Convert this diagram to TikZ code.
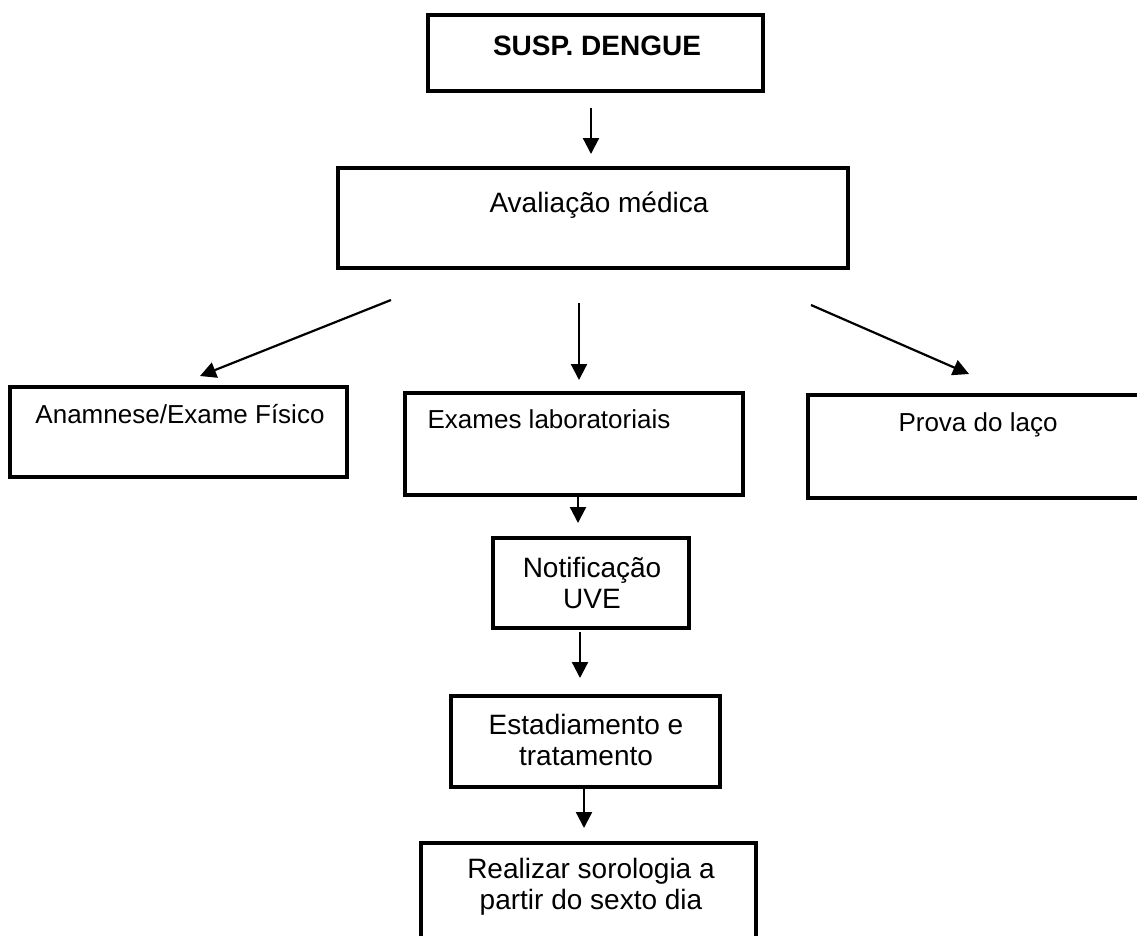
\documentclass[tikz,border=0pt]{standalone}
\usepackage{fontspec}
\setsansfont{Liberation Sans}
\usetikzlibrary{arrows.meta}

\begin{document}
\begin{tikzpicture}[x=1pt,y=-1pt]
    \pgfmathsetmacro{\boxlw}{3.5}
    \pgfmathsetmacro{\arrlw}{2.2}
    \tikzset{every node/.style={font=\sffamily}}
    \tikzset{box/.style={draw,line width=\boxlw pt,inner sep=0pt}}
    \tikzset{bigtxt/.style={anchor=base,align=center,inner sep=0pt,font=\sffamily\fontsize{28}{31}\selectfont}}
    \tikzset{smalltxt/.style={anchor=base,align=center,inner sep=0pt,font=\sffamily\fontsize{26}{31}\selectfont}}
    \tikzset{flow/.style={line width=\arrlw pt,-{Triangle[length=16pt,width=16pt]}}}
    \useasboundingbox[fill=white] (0,0) rectangle (1137,935);
    \node[box,minimum width=335pt,minimum height=76pt] (susp) at (595.5,53) {};
\node[box,minimum width=510pt,minimum height=100pt] (aval) at (593,218) {};
\node[box,minimum width=337pt,minimum height=90pt] (anam) at (178.5,432) {};
\node[box,minimum width=338pt,minimum height=102pt] (exam) at (574,444) {};
\node[box,minimum width=336pt,minimum height=103pt] (prova) at (976,446.5) {};
\node[box,minimum width=196pt,minimum height=90pt] (notif) at (591,583) {};
\node[box,minimum width=269pt,minimum height=91pt] (estad) at (585.5,741.5) {};
\node[box,minimum width=335pt,minimum height=114pt] (real) at (588.5,900) {};
\node[bigtxt,font=\sffamily\bfseries\fontsize{28}{31}\selectfont] (suspT) at (597,55) {SUSP. DENGUE};
\node[bigtxt] (avalT) at (599,212) {Avaliação médica};
\node[smalltxt] (anamT) at (180,423) {Anamnese/Exame Físico};
\node[smalltxt] (examT) at (549,428) {Exames laboratoriais};
\node[smalltxt] (provaT) at (978,431) {Prova do laço};
\node[bigtxt] (notifT) at (592,608) {Notificação\\UVE};
\node[bigtxt] (estadT) at (586,765) {Estadiamento e\\tratamento};
\node[bigtxt] (realT) at (591,909) {Realizar sorologia a\\partir do sexto dia};
\coordinate (suspOut) at (591,108);
\coordinate (avalIn) at (591,154);
\coordinate (avalL) at (391,300);
\coordinate (anamIn) at (200,376);
\coordinate (avalM) at (579,303);
\coordinate (examIn) at (579,380);
\coordinate (avalR) at (811,305);
\coordinate (provaIn) at (969,374);
\coordinate (examOut) at (578,497);
\coordinate (notifIn) at (578,523);
\coordinate (notifOut) at (580,632);
\coordinate (estadIn) at (580,678);
\coordinate (estadOut) at (584,785);
\coordinate (realIn) at (584,828);
\draw[flow] (suspOut) -- (avalIn);
\draw[flow] (avalL) -- (anamIn);
\draw[flow] (avalM) -- (examIn);
\draw[flow] (avalR) -- (provaIn);
\draw[flow] (examOut) -- (notifIn);
\draw[flow] (notifOut) -- (estadIn);
\draw[flow] (estadOut) -- (realIn);

\end{tikzpicture}
\end{document}
